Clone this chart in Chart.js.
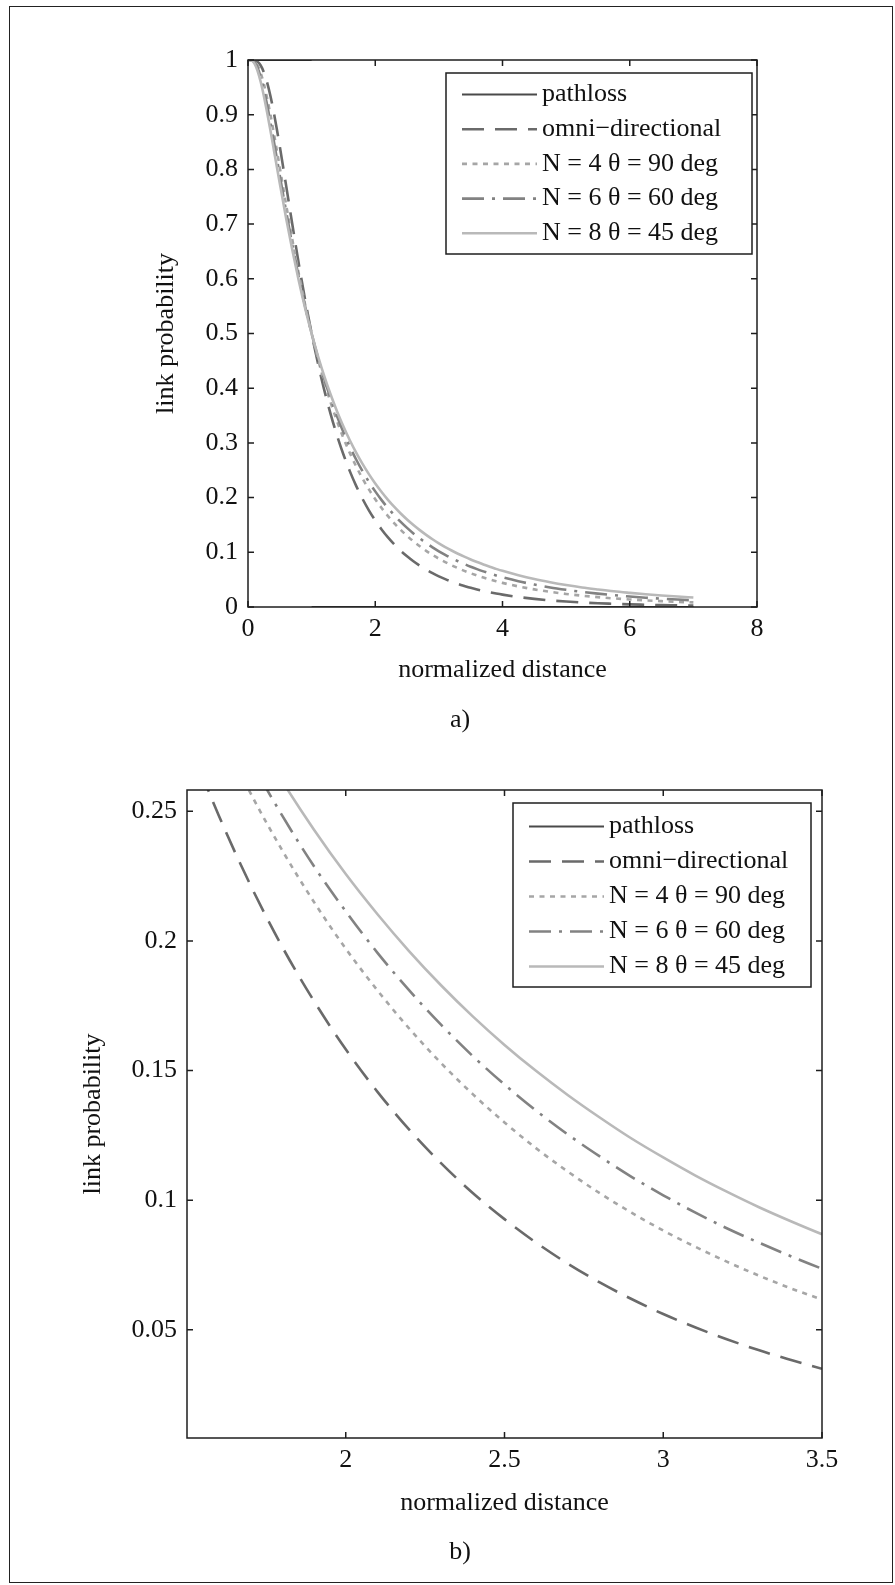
<!DOCTYPE html>
<html>
<head>
<meta charset="utf-8">
<script src="https://cdn.jsdelivr.net/npm/chart.js@4.4.1/dist/chart.umd.min.js"></script>
<style>
  html, body { margin: 0; padding: 0; background: #fff; }
  body { width: 895px; height: 1585px; position: relative; overflow: hidden; }
  #frame { position: absolute; left: 9px; top: 6px; width: 884px; height: 1577px; border: 1.5px solid #222; box-sizing: border-box; }
  canvas { position: absolute; left: 0; }
  #ca { top: 0; }
  #cb { top: 745px; }
</style>
</head>
<body>
<div id="frame"></div>
<canvas id="ca" width="895" height="745"></canvas>
<canvas id="cb" width="895" height="840"></canvas>
<script>
// ---------------- data ----------------
const xGrid = [0, 0.05, 0.1, 0.15, 0.2, 0.25, 0.3, 0.35, 0.4, 0.45, 0.5,
  0.6, 0.7, 0.8, 0.9, 1.0,
  1.1, 1.2, 1.3, 1.4, 1.5, 1.6, 1.7, 1.8, 1.9, 2.0,
  2.1, 2.2, 2.3, 2.4, 2.5, 2.6, 2.7, 2.8, 2.9, 3.0,
  3.1, 3.2, 3.3, 3.4, 3.5, 3.6, 3.7, 3.8, 3.9, 4.0,
  4.25, 4.5, 4.75, 5.0, 5.25, 5.5, 5.75, 6.0, 6.25, 6.5, 6.75, 7.0];

const pathX = [0, 1, 1, 1, 7];
const pathY = [1, 1, null, 0, 0];

const omni = [1, 1.0, 0.9996, 0.9969, 0.9900, 0.9774, 0.9591, 0.9354, 0.9073, 0.8758, 0.8418,
  0.7699, 0.6970, 0.6264, 0.5605, 0.5000,
  0.4452, 0.3961, 0.3523, 0.3133, 0.2789, 0.2484, 0.2215, 0.1977, 0.1768, 0.1582,
  0.1418, 0.1272, 0.1143, 0.1028, 0.0927, 0.0836, 0.0755, 0.0683, 0.0619, 0.0561,
  0.0510, 0.0464, 0.0422, 0.0385, 0.0350, 0.0320, 0.0293, 0.0268, 0.0246, 0.0226,
  0.0183, 0.0149, 0.0121, 0.0100, 0.0083, 0.0068, 0.0058, 0.0048, 0.0041, 0.0034, 0.0030, 0.0025];

const n4 = [1, 0.9999, 0.9977, 0.9902, 0.9761, 0.9559, 0.9306, 0.9017, 0.8700, 0.8369, 0.8030,
  0.7350, 0.6695, 0.6081, 0.5515, 0.5000,
  0.4534, 0.4113, 0.3735, 0.3395, 0.3089, 0.2817, 0.2570, 0.2349, 0.2150, 0.1970,
  0.1809, 0.1662, 0.1529, 0.1409, 0.1300, 0.1200, 0.1110, 0.1027, 0.0952, 0.0883,
  0.0821, 0.0763, 0.0710, 0.0661, 0.0617, 0.0576, 0.0538, 0.0503, 0.0471, 0.0441,
  0.0376, 0.0322, 0.0277, 0.0239, 0.0207, 0.0180, 0.0157, 0.0138, 0.0121, 0.0107, 0.0094, 0.0084];

const n6 = [1, 0.9997, 0.9961, 0.9859, 0.9686, 0.9456, 0.9181, 0.8877, 0.8554, 0.8221, 0.7886,
  0.7227, 0.6600, 0.6018, 0.5485, 0.5000,
  0.4561, 0.4165, 0.3807, 0.3486, 0.3195, 0.2933, 0.2697, 0.2483, 0.2288, 0.2114,
  0.1954, 0.1809, 0.1677, 0.1556, 0.1446, 0.1345, 0.1253, 0.1169, 0.1090, 0.1019,
  0.0953, 0.0892, 0.0837, 0.0785, 0.0736, 0.0692, 0.0651, 0.0613, 0.0577, 0.0544,
  0.0471, 0.0410, 0.0357, 0.0314, 0.0276, 0.0244, 0.0216, 0.0191, 0.0170, 0.0152, 0.0136, 0.0122];

const n8 = [1, 0.9994, 0.9938, 0.9803, 0.9597, 0.9339, 0.9044, 0.8728, 0.8401, 0.8070, 0.7742,
  0.7104, 0.6507, 0.5957, 0.5455, 0.5000,
  0.4588, 0.4215, 0.3879, 0.3575, 0.3299, 0.3049, 0.2823, 0.2616, 0.2429, 0.2258,
  0.2103, 0.1960, 0.1829, 0.1709, 0.1599, 0.1498, 0.1405, 0.1319, 0.1238, 0.1165,
  0.1096, 0.1033, 0.0974, 0.0920, 0.0869, 0.0822, 0.0778, 0.0735, 0.0697, 0.0661,
  0.0581, 0.0512, 0.0454, 0.0403, 0.0358, 0.0321, 0.0287, 0.0259, 0.0233, 0.0211, 0.0191, 0.0173];

const seriesLabels = ['pathloss', 'omni\u2212directional', 'N = 4 \u03b8 = 90 deg', 'N = 6 \u03b8 = 60 deg', 'N = 8 \u03b8 = 45 deg'];

// tick values / labels
const xTicksA = [0, 2, 4, 6, 8];
const xLabelsA = ['0', '2', '4', '6', '8'];
const yTicksA = [0, 0.1, 0.2, 0.3, 0.4, 0.5, 0.6, 0.7, 0.8, 0.9, 1];
const yLabelsA = ['0', '0.1', '0.2', '0.3', '0.4', '0.5', '0.6', '0.7', '0.8', '0.9', '1'];
const xTicksB = [2, 2.5, 3, 3.5];
const xLabelsB = ['2', '2.5', '3', '3.5'];
const yTicksB = [0.05, 0.1, 0.15, 0.2, 0.25];
const yLabelsB = ['0.05', '0.1', '0.15', '0.2', '0.25'];

// ---------------- styling ----------------
Chart.defaults.font.family = '"Liberation Serif", "Times New Roman", Times, serif';
Chart.defaults.font.size = 26;
Chart.defaults.color = '#111';

const styles = [
  { color: '#4a4a4a', width: 2.2, dash: [] },
  { color: '#6a6a6a', width: 2.6, dash: [22, 11] },
  { color: '#a6a6a6', width: 2.6, dash: [5, 5.5] },
  { color: '#828282', width: 2.6, dash: [22, 8, 3, 8] },
  { color: '#b9b9b9', width: 2.6, dash: [] }
];

function makeDatasets() {
  const pts = ys => xGrid.map((x, i) => ({ x: x, y: ys[i] }));
  const all = [
    pathX.map((x, i) => ({ x: x, y: pathY[i] })),
    pts(omni), pts(n4), pts(n6), pts(n8)
  ];
  return all.map((d, i) => ({
    label: seriesLabels[i],
    data: d,
    borderColor: styles[i].color,
    borderWidth: styles[i].width,
    borderDash: styles[i].dash,
    pointRadius: 0,
    fill: false,
    spanGaps: false,
    tension: 0,
    cubicInterpolationMode: i === 0 ? 'default' : 'monotone',
    order: 5 - i
  }));
}

const frame = {
  id: 'frame',
  afterDatasetsDraw(chart) {
    const { ctx, chartArea: a, scales: { x, y } } = chart;
    const L = 6;
    ctx.save();
    ctx.strokeStyle = '#1e1e1e';
    ctx.lineWidth = 1.5;
    ctx.setLineDash([]);
    ctx.beginPath();
    x.ticks.forEach(t => {
      const px = x.getPixelForValue(t.value);
      ctx.moveTo(px, a.bottom); ctx.lineTo(px, a.bottom - L);
      ctx.moveTo(px, a.top); ctx.lineTo(px, a.top + L);
    });
    y.ticks.forEach(t => {
      const py = y.getPixelForValue(t.value);
      ctx.moveTo(a.left, py); ctx.lineTo(a.left + L, py);
      ctx.moveTo(a.right, py); ctx.lineTo(a.right - L, py);
    });
    ctx.stroke();
    ctx.strokeRect(a.left, a.top, a.right - a.left, a.bottom - a.top);
    ctx.restore();
  }
};

const boxLegend = {
  id: 'boxLegend',
  afterDraw(chart, args, o) {
    const { ctx, chartArea: a } = chart;
    const bx = a.right - o.right - o.width, by = a.top + o.top;
    ctx.save();
    ctx.fillStyle = '#fff';
    ctx.fillRect(bx, by, o.width, o.height);
    ctx.strokeStyle = '#1e1e1e';
    ctx.lineWidth = 1.5;
    ctx.setLineDash([]);
    ctx.strokeRect(bx, by, o.width, o.height);
    chart.data.datasets.forEach((ds, i) => {
      const ry = by + o.firstRow + i * o.rowGap;
      ctx.beginPath();
      ctx.strokeStyle = ds.borderColor;
      ctx.lineWidth = ds.borderWidth;
      ctx.setLineDash(ds.borderDash || []);
      ctx.moveTo(bx + 16, ry);
      ctx.lineTo(bx + 91, ry);
      ctx.stroke();
      ctx.setLineDash([]);
      ctx.fillStyle = '#111';
      ctx.font = '26px "Liberation Serif", "Times New Roman", serif';
      ctx.textBaseline = 'middle';
      ctx.textAlign = 'left';
      ctx.fillText(ds.label, bx + 96, ry);
    });
    ctx.restore();
  }
};

const caption = {
  id: 'caption',
  afterDraw(chart, args, o) {
    const ctx = chart.ctx;
    ctx.save();
    ctx.fillStyle = '#111';
    ctx.font = '26px "Liberation Serif", "Times New Roman", serif';
    ctx.textAlign = 'center';
    ctx.textBaseline = 'middle';
    ctx.fillText(o.text, o.x, o.y);
    ctx.restore();
  }
};

function makeScales(c) {
  return {
    x: {
      type: 'linear', min: c.xMin, max: c.xMax,
      grid: { display: false, drawTicks: false },
      border: { display: false },
      afterBuildTicks: s => { s.ticks = c.xTicks.map(v => ({ value: v })); },
      ticks: { padding: 7, maxRotation: 0, autoSkip: false, callback: (v, i) => c.xLabels[i] },
      title: { display: true, text: 'normalized distance', padding: 0 },
      afterFit: s => { s.height = c.xH; }
    },
    y: {
      type: 'linear', min: c.yMin, max: c.yMax,
      grid: { display: false, drawTicks: false },
      border: { display: false },
      afterBuildTicks: s => { s.ticks = c.yTicks.map(v => ({ value: v })); },
      ticks: { padding: 10, autoSkip: false, callback: (v, i) => c.yLabels[i] },
      title: { display: true, text: 'link probability', padding: 0 },
      afterFit: s => { s.width = c.yW; }
    }
  };
}

function makeChart(id, c) {
  return new Chart(document.getElementById(id), {
    type: 'line',
    data: { datasets: makeDatasets() },
    options: {
      responsive: false, animation: false, devicePixelRatio: 1, events: [],
      layout: { padding: c.pad },
      scales: makeScales(c),
      plugins: {
        legend: { display: false },
        tooltip: { enabled: false },
        boxLegend: c.legend,
        caption: c.caption
      }
    },
    plugins: [frame, boxLegend, caption]
  });
}

// chart a: chartArea 248..757 x 60..607
makeChart('ca', {
  xMin: 0, xMax: 8, yMin: 0, yMax: 1,
  xTicks: xTicksA, xLabels: xLabelsA, yTicks: yTicksA, yLabels: yLabelsA,
  yW: 97.6, xH: 78.6,
  pad: { left: 150.4, right: 138, top: 60, bottom: 59.4 },
  legend: { right: 5, top: 13, width: 306, height: 181, firstRow: 21.5, rowGap: 34.7 },
  caption: { text: 'a)', x: 460, y: 720 }
});

// chart b: chartArea 187..822 x 45..693 (canvas coords)
makeChart('cb', {
  xMin: 1.5, xMax: 3.5, yMin: 0.0083, yMax: 0.2582,
  xTicks: xTicksB, xLabels: xLabelsB, yTicks: yTicksB, yLabels: yLabelsB,
  yW: 109.6, xH: 80.6,
  pad: { left: 77.4, right: 73, top: 45, bottom: 66.4 },
  legend: { right: 11, top: 13, width: 298, height: 184, firstRow: 23.5, rowGap: 35 },
  caption: { text: 'b)', x: 460, y: 807 }
});
</script>
</body>
</html>
